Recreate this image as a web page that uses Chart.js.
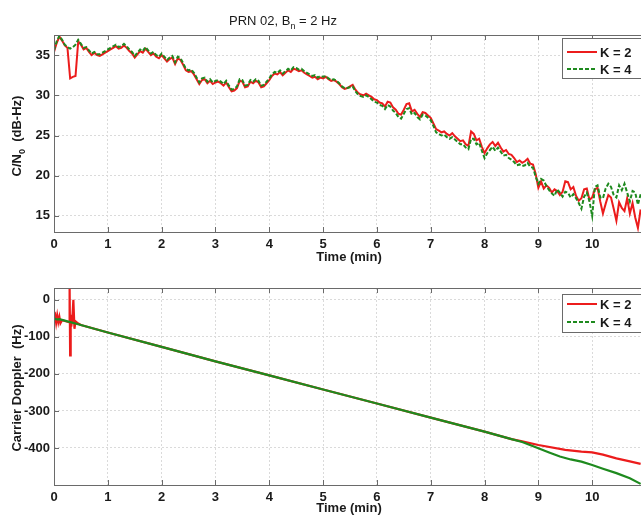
<!DOCTYPE html>
<html>
<head>
<meta charset="utf-8">
<title>PRN 02 tracking</title>
<script src="https://cdn.jsdelivr.net/npm/chart.js@4.4.1/dist/chart.umd.min.js"></script>
<style>
  html, body { margin: 0; padding: 0; background: #fff; overflow: hidden; }
  #wrap { position: relative; width: 641px; height: 520px; overflow: hidden; }
  #wrap canvas { position: absolute; left: 0; }
  #cn0 { top: 0; }
  #dop { top: 265px; }
</style>
</head>
<body>
<div id="wrap">
  <canvas id="cn0" width="650" height="265"></canvas>
  <canvas id="dop" width="650" height="255"></canvas>
</div>
<script>
// ---- data -------------------------------------------------------------
const seriesNames = ['K = 2', 'K = 4'];
const timeTicks = [0, 1, 2, 3, 4, 5, 6, 7, 8, 9, 10];
const cn0Ticks = [15, 20, 25, 30, 35];
const dopTicks = [0, -100, -200, -300, -400];

// C/N0 estimates, one sample every SAMPLE_STEP minutes starting at t = 0
const SAMPLE_STEP = 0.05;
const cn0K2 = [
  35.4, 36.5, 37.3, 36.8, 36.2, 35.9, 32.1, 32.3, 32.4, 36.7, 36.3, 35.7, 35.9, 35.4, 35.0, 35.3, 35.0, 34.9, 35.1, 35.3,
  35.5, 35.7, 35.9, 36.1, 35.8, 35.9, 36.2, 35.9, 35.5, 35.2, 34.7, 35.1, 35.5, 35.3, 35.8, 35.4, 35.0, 35.2, 34.8, 34.6,
  35.0, 34.6, 34.2, 34.5, 34.7, 33.9, 34.6, 34.4, 33.8, 33.1, 32.9, 33.0, 32.6, 32.0, 31.4, 31.9, 32.0, 31.5, 31.8, 31.4,
  31.6, 31.7, 31.5, 31.2, 31.6, 31.0, 30.5, 30.6, 30.9, 31.8, 31.7, 31.0, 31.1, 31.7, 31.5, 31.8, 31.6, 31.0, 31.1, 31.5,
  31.9, 32.4, 32.7, 32.6, 32.9, 32.5, 32.8, 33.1, 32.9, 33.3, 33.2, 33.0, 33.1, 32.8, 32.6, 32.4, 32.2, 32.3, 32.0, 32.2,
  32.1, 32.3, 32.0, 31.8, 31.9, 31.7, 31.4, 31.0, 30.8, 30.9, 31.1, 31.3, 30.7, 30.3, 30.1, 30.0, 30.2, 30.0, 29.8, 29.5,
  29.4, 29.1, 29.0, 28.6, 29.2, 29.1, 28.5, 28.2, 27.7, 27.6, 28.2, 28.9, 29.0, 28.0, 28.2, 27.7, 27.3, 27.9, 27.8, 27.5,
  27.2, 26.5, 25.8, 25.6, 25.4, 25.5, 25.2, 25.0, 25.3, 24.9, 24.6, 24.3, 24.4, 23.9, 23.7, 25.5, 25.2, 24.4, 24.6, 23.6,
  22.8, 23.4, 23.9, 24.2, 23.7, 24.1, 23.5, 23.0, 23.2, 22.7, 22.6, 22.2, 21.7, 21.9, 21.6, 21.8, 22.1, 21.5, 21.4, 20.2,
  18.5, 19.3, 18.4, 18.8, 18.5, 17.9, 18.3, 18.1, 17.6, 18.0, 19.3, 19.2, 18.3, 18.6, 17.5, 16.9, 17.2, 18.3, 18.4, 17.0,
  17.3, 18.3, 18.5, 16.8, 15.3, 16.5, 17.6, 17.3, 15.9, 14.4, 16.7, 16.0, 15.6, 17.2, 15.3, 16.6, 14.8, 13.5, 15.8
];
const cn0K4 = [
  35.6, 36.7, 37.4, 36.9, 36.3, 36.0, 35.8, 36.0, 36.3, 36.9, 36.4, 35.9, 36.0, 35.6, 35.2, 35.4, 35.1, 35.1, 35.3, 35.5,
  35.7, 35.9, 36.1, 36.3, 36.0, 36.1, 36.4, 36.1, 35.7, 35.4, 34.9, 35.3, 35.7, 35.5, 36.0, 35.6, 35.2, 35.4, 35.0, 34.8,
  35.2, 34.8, 34.4, 34.7, 34.9, 34.1, 34.8, 34.6, 34.0, 33.3, 33.1, 33.2, 32.8, 32.2, 31.6, 32.1, 32.2, 31.7, 32.0, 31.6,
  31.8, 31.9, 31.7, 31.4, 31.8, 31.2, 30.7, 30.8, 31.1, 32.0, 31.9, 31.2, 31.3, 31.9, 31.7, 32.0, 31.8, 31.2, 31.3, 31.7,
  32.1, 32.6, 32.9, 32.8, 33.1, 32.7, 33.0, 33.3, 33.1, 33.5, 33.4, 33.2, 33.3, 33.0, 32.8, 32.6, 32.4, 32.5, 32.2, 32.4,
  32.3, 32.4, 32.1, 31.9, 32.0, 31.8, 31.5, 31.1, 30.9, 30.9, 31.0, 31.1, 30.5, 30.1, 29.9, 29.8, 30.0, 29.8, 29.5, 29.2,
  29.1, 28.8, 28.7, 28.3, 28.8, 28.6, 28.1, 27.8, 27.3, 27.1, 27.7, 28.3, 28.4, 27.6, 27.8, 27.3, 27.0, 27.6, 27.5, 27.2,
  26.9, 26.2, 25.4, 25.2, 25.0, 25.1, 24.8, 24.6, 24.8, 24.5, 24.2, 23.9, 23.9, 23.5, 23.3, 24.6, 24.6, 23.9, 24.1, 23.1,
  22.2, 22.8, 23.2, 23.6, 23.1, 23.5, 23.0, 22.5, 22.6, 22.2, 22.0, 21.7, 21.3, 21.4, 21.2, 21.3, 21.6, 21.1, 21.0, 19.9,
  19.0, 19.6, 19.4, 18.7, 18.2, 17.8, 17.5, 18.3, 17.9, 17.4, 18.0, 17.9, 17.3, 17.7, 17.2, 16.6, 15.9, 17.4, 17.9, 16.8,
  15.0, 18.6, 18.8, 17.3, 17.2, 18.4, 19.0, 18.6, 17.6, 17.3, 18.8, 18.2, 19.0, 17.9, 16.8, 18.1, 17.9, 16.4, 17.7
];

// Carrier Doppler estimates (time in minutes, Doppler in Hz)
const dopTimeK2 = [0, 0.02, 0.04, 0.06, 0.08, 0.10, 0.12, 0.15, 0.20, 0.25,
                   0.28, 0.29, 0.30, 0.31, 0.32, 0.34, 0.36, 0.38, 0.40, 0.45,
                   0.5, 1, 2, 3, 4, 5, 6, 7, 8,
                   8.5, 8.7, 9.0, 9.5, 9.8, 10.0, 10.2, 10.45, 10.7, 10.9];
const dopK2 = [-45, -40, -62, -42, -60, -46, -63, -55, -57, -59,
               -60, 40, -150, -40, -72, -52, 0, -78, -58, -64,
               -68, -88, -127, -166, -204, -242, -280, -318, -356,
               -376, -382, -392, -405, -410, -412, -418, -428, -436, -443];
const dopTimeK4 = [0, 0.05, 0.1, 0.2, 0.5, 1, 2, 3, 4, 5, 6, 7, 8,
                   8.5, 8.7, 9.0, 9.2, 9.4, 9.6, 9.8, 10.0, 10.2, 10.45, 10.7, 10.9];
const dopK4 = [-50, -53, -52, -56, -68, -88, -127, -166, -204, -242, -280, -318, -356,
               -376, -384, -401, -412, -423, -431, -437, -446, -456, -468, -482, -497];

// ---- styling ----------------------------------------------------------
const FONT = "'Liberation Sans', Arial, Helvetica, sans-serif";
const RED = '#ec1c1c';
const GREEN = '#1e8a1e';
const AXIS = '#6a6a6a';
const GRID = '#dadada';
const TEXT = '#1a1a1a';
const TICK_LEN = 5;

const toPoints = (xs, ys) => ys.map((v, i) => ({ x: xs[i], y: v }));
const sampleTimes = cn0K2.map((_, i) => +(i * SAMPLE_STEP).toFixed(2));

// Text with optional subscript runs, centred on the current origin
function drawRich(ctx, parts, weight, size) {
  const main = `${weight} ${size}px ${FONT}`;
  const sub = `${weight} ${Math.round(size * 0.72)}px ${FONT}`;
  let w = 0;
  parts.forEach(p => { ctx.font = p.sub ? sub : main; w += ctx.measureText(p.text).width; });
  let x = -w / 2;
  ctx.fillStyle = TEXT;
  ctx.textAlign = 'left';
  ctx.textBaseline = 'alphabetic';
  parts.forEach(p => {
    ctx.font = p.sub ? sub : main;
    ctx.fillText(p.text, x, p.sub ? 4 : 0);
    x += ctx.measureText(p.text).width;
  });
}

// Boxed axes with inward tick marks on all four sides
const framePlugin = {
  id: 'frame',
  afterDatasetsDraw(chart) {
    const { ctx, chartArea: a, scales: { x, y } } = chart;
    ctx.save();
    ctx.strokeStyle = AXIS;
    ctx.lineWidth = 1;
    ctx.strokeRect(Math.round(a.left) + 0.5, Math.round(a.top) + 0.5,
                   Math.round(a.right - a.left), Math.round(a.bottom - a.top));
    ctx.beginPath();
    x.ticks.forEach(t => {
      const px = Math.round(x.getPixelForValue(t.value)) + 0.5;
      ctx.moveTo(px, a.bottom); ctx.lineTo(px, a.bottom - TICK_LEN);
      ctx.moveTo(px, a.top); ctx.lineTo(px, a.top + TICK_LEN);
    });
    y.ticks.forEach(t => {
      const py = Math.round(y.getPixelForValue(t.value)) + 0.5;
      ctx.moveTo(a.left, py); ctx.lineTo(a.left + TICK_LEN, py);
      ctx.moveTo(a.right, py); ctx.lineTo(a.right - TICK_LEN, py);
    });
    ctx.stroke();
    ctx.restore();
  }
};

// Axis titles and plot title (support subscripts)
const titlesPlugin = {
  id: 'titles',
  afterDraw(chart, args, opts) {
    const ctx = chart.ctx;
    (opts.items || []).forEach(t => {
      ctx.save();
      ctx.translate(t.x, t.y);
      if (t.rotate) ctx.rotate(-Math.PI / 2);
      drawRich(ctx, t.parts, t.weight || 'bold', t.size || 13);
      ctx.restore();
    });
  }
};

// Boxed legend in the upper-right corner
const legendPlugin = {
  id: 'boxLegend',
  afterDraw(chart, args, o) {
    const ctx = chart.ctx;
    ctx.save();
    ctx.fillStyle = '#fff';
    ctx.strokeStyle = AXIS;
    ctx.lineWidth = 1;
    ctx.fillRect(o.left, o.top, o.width, o.height);
    ctx.strokeRect(o.left + 0.5, o.top + 0.5, o.width, o.height);
    o.entries.forEach((e, i) => {
      const yy = o.top + o.rows[i];
      ctx.strokeStyle = e.color;
      ctx.lineWidth = 2;
      ctx.setLineDash(e.dash);
      ctx.beginPath();
      ctx.moveTo(o.left + 5, yy);
      ctx.lineTo(o.left + 35, yy);
      ctx.stroke();
      ctx.setLineDash([]);
      ctx.fillStyle = TEXT;
      ctx.font = `bold 13px ${FONT}`;
      ctx.textAlign = 'left';
      ctx.textBaseline = 'middle';
      ctx.fillText(e.label, o.left + 38, yy + 1);
    });
    ctx.restore();
  }
};

function makeScales(ymin, ymax, yTicks, xHeight) {
  const tickFont = { family: FONT, size: 13, weight: 'bold' };
  return {
    x: {
      type: 'linear', min: 0, max: 11,
      afterBuildTicks: s => { s.ticks = timeTicks.map(v => ({ value: v })); },
      afterFit: s => { s.height = xHeight; },
      grid: { color: GRID, lineWidth: 1, drawTicks: false },
      border: { display: false, dash: [2, 2] },
      ticks: { color: TEXT, font: tickFont, padding: 5, maxRotation: 0, autoSkip: false }
    },
    y: {
      type: 'linear', min: ymin, max: ymax,
      afterBuildTicks: s => { s.ticks = yTicks.map(v => ({ value: v })); },
      afterFit: s => { s.width = 54; },
      grid: { color: GRID, lineWidth: 1, drawTicks: false },
      border: { display: false, dash: [2, 2] },
      ticks: { color: TEXT, font: tickFont, padding: 4, autoSkip: false }
    }
  };
}

const legendEntries = [
  { label: seriesNames[0], color: RED, dash: [] },
  { label: seriesNames[1], color: GREEN, dash: [4, 2] }
];

// ---- C/N0 chart ---------------------------------------------------------
new Chart(document.getElementById('cn0'), {
  type: 'line',
  data: {
    datasets: [
      { label: seriesNames[0], data: toPoints(sampleTimes, cn0K2), borderColor: RED,
        borderWidth: 2, pointRadius: 0, tension: 0, order: 2 },
      { label: seriesNames[1], data: toPoints(sampleTimes, cn0K4), borderColor: GREEN,
        borderWidth: 2, borderDash: [4, 2], pointRadius: 0, tension: 0, order: 1 }
    ]
  },
  options: {
    responsive: false, animation: false, events: [],
    layout: { padding: { top: 35, right: 4, left: 0, bottom: 0 } },
    scales: makeScales(13, 37.5, cn0Ticks, 33),
    plugins: {
      legend: { display: false }, tooltip: { enabled: false },
      titles: { items: [
        { x: 283, y: 25, weight: 'normal', size: 13,
          parts: [{ text: 'PRN 02, B' }, { text: 'n', sub: true }, { text: ' = 2 Hz' }] },
        { x: 20.5, y: 136, rotate: true,
          parts: [{ text: 'C/N' }, { text: '0', sub: true }, { text: '  (dB-Hz)' }] },
        { x: 349, y: 261, parts: [{ text: 'Time (min)' }] }
      ] },
      boxLegend: { left: 562, top: 38, width: 90, height: 40, rows: [14, 31], entries: legendEntries }
    }
  },
  plugins: [framePlugin, titlesPlugin, legendPlugin]
});

// ---- Carrier Doppler chart ---------------------------------------------
new Chart(document.getElementById('dop'), {
  type: 'line',
  data: {
    datasets: [
      { label: seriesNames[0], data: toPoints(dopTimeK2, dopK2), borderColor: RED,
        borderWidth: 2.2, pointRadius: 0, tension: 0, order: 2 },
      { label: seriesNames[1], data: toPoints(dopTimeK4, dopK4), borderColor: GREEN,
        borderWidth: 2.2, pointRadius: 0, tension: 0, order: 1 }
    ]
  },
  options: {
    responsive: false, animation: false, events: [],
    layout: { padding: { top: 23, right: 4, left: 0, bottom: 0 } },
    scales: makeScales(-500, 32, dopTicks, 35),
    plugins: {
      legend: { display: false }, tooltip: { enabled: false },
      titles: { items: [
        { x: 20.5, y: 123, rotate: true, parts: [{ text: 'Carrier Doppler  (Hz)' }] },
        { x: 349, y: 247, parts: [{ text: 'Time (min)' }] }
      ] },
      boxLegend: { left: 562, top: 29, width: 90, height: 38, rows: [10, 28], entries: legendEntries }
    }
  },
  plugins: [framePlugin, titlesPlugin, legendPlugin]
});
</script>
</body>
</html>
